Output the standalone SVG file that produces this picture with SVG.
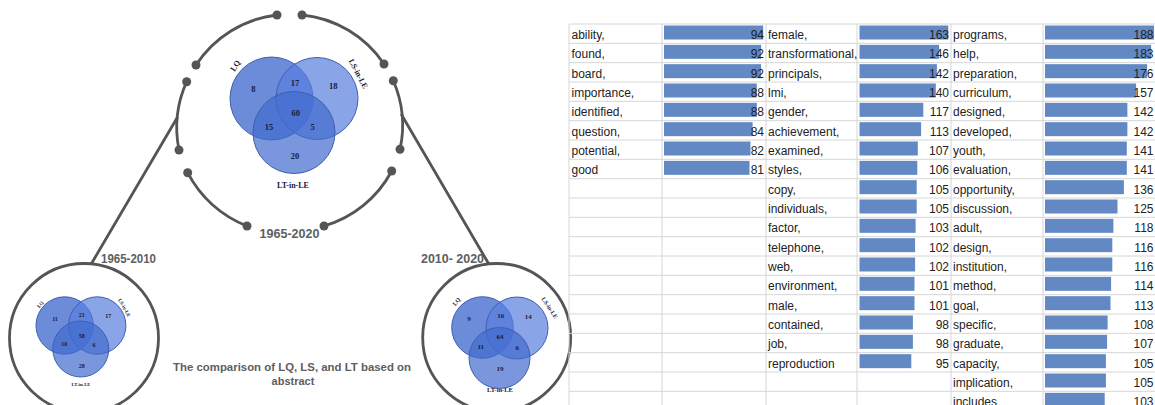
<svg xmlns="http://www.w3.org/2000/svg" width="1155" height="405" viewBox="0 0 1155 405">
<style>
.ring{fill:none;stroke:#555;stroke-width:2.8;stroke-linecap:round}
.dot{fill:#555}
.big{fill:none;stroke:#555;stroke-width:2.8}
.lbl{font-family:"Liberation Sans",Arial,sans-serif;font-weight:bold;fill:#5e5e5e}
.vq{fill:#2e5bc9;fill-opacity:0.7;stroke:#3f5fae;stroke-width:1}
.vs{fill:#587ede;fill-opacity:0.7;stroke:#3f5fae;stroke-width:1}
.vt{fill:#416bce;fill-opacity:0.7;stroke:#3f5fae;stroke-width:1}
.vn{font-family:"Liberation Serif","Times New Roman",serif;font-weight:bold;fill:#15203d;text-anchor:middle}
.grid{stroke:#d6d6d6;stroke-width:1}
.w{font-family:"Liberation Sans",Arial,sans-serif;font-size:12px;fill:#222}
.n{font-family:"Liberation Sans",Arial,sans-serif;font-size:12px;fill:#222;text-anchor:end}
.bar{fill:#6289c4}
</style>
<rect width="1155" height="405" fill="#fff"/>

<g id="connectors">
  <path class="ring" d="M277,15 A112,112 0 0 0 196,65"/>
  <path class="ring" d="M302,15 A112,112 0 0 1 384,64"/>
  <path class="ring" d="M186.7,81.7 A112,112 0 0 0 179,150"/>
  <path class="ring" d="M393.3,80.7 A112,112 0 0 1 400,149.3"/>
  <path class="ring" d="M187.7,172.7 A112,112 0 0 0 247,226"/>
  <path class="ring" d="M391.7,171 A112,112 0 0 1 324,226"/>
  <circle class="dot" cx="277" cy="15" r="4.5"/>
  <circle class="dot" cx="302" cy="15" r="4.5"/>
  <circle class="dot" cx="196" cy="65" r="4.5"/>
  <circle class="dot" cx="384" cy="64" r="4.5"/>
  <circle class="dot" cx="186.7" cy="81.7" r="4.5"/>
  <circle class="dot" cx="393.3" cy="80.7" r="4.5"/>
  <circle class="dot" cx="179" cy="150" r="4.5"/>
  <circle class="dot" cx="400" cy="149.3" r="4.5"/>
  <circle class="dot" cx="187.7" cy="172.7" r="4.5"/>
  <circle class="dot" cx="391.7" cy="171" r="4.5"/>
  <circle class="dot" cx="247" cy="226" r="4.5"/>
  <circle class="dot" cx="324" cy="226" r="4.5"/>
  <path class="ring" d="M177,118 L91.5,263.5"/>
  <path class="ring" d="M401.7,115 L488.5,263.5"/>
  <text class="lbl" x="289.5" y="237.5" font-size="13" text-anchor="middle" textLength="60" lengthAdjust="spacingAndGlyphs">1965-2020</text>
  <text class="lbl" x="101" y="262.5" font-size="12" textLength="55" lengthAdjust="spacingAndGlyphs">1965-2010</text>
  <text class="lbl" x="421" y="262.5" font-size="12" textLength="63" lengthAdjust="spacingAndGlyphs">2010- 2020</text>
  <text class="lbl" x="292" y="371" font-size="11" text-anchor="middle" textLength="238" lengthAdjust="spacingAndGlyphs">The comparison of LQ, LS, and LT based on</text>
  <text class="lbl" x="293" y="384.5" font-size="11" text-anchor="middle">abstract</text>
</g>

<g id="venn-1965-2020">
  <circle class="vq" cx="271.5" cy="98.5" r="41.5"/>
  <circle class="vs" cx="317" cy="98.5" r="41"/>
  <circle class="vt" cx="294" cy="132.5" r="41"/>
  <text class="vn" font-size="8" transform="translate(237.5,67) rotate(-58)">LQ</text>
  <text class="vn" font-size="8" transform="translate(356,75) rotate(62)">LS-in-LE</text>
  <text class="vn" font-size="8" x="293" y="188">LT-in-LE</text>
  <text class="vn" font-size="8.5" x="253.3" y="92.3">8</text>
  <text class="vn" font-size="8.5" x="295" y="85.7">17</text>
  <text class="vn" font-size="8.5" x="333.3" y="89">18</text>
  <text class="vn" font-size="8.5" x="295.7" y="116.3">60</text>
  <text class="vn" font-size="8.5" x="269" y="130.3">15</text>
  <text class="vn" font-size="8.5" x="312.7" y="130.3">5</text>
  <text class="vn" font-size="8.5" x="295" y="159">20</text>
</g>

<g id="venn-1965-2010">
  <circle class="big" cx="84" cy="338" r="74.5"/>
  <circle class="vq" cx="64.7" cy="325.5" r="28.7"/>
  <circle class="vs" cx="97.2" cy="325.5" r="28.7"/>
  <circle class="vt" cx="80.8" cy="349" r="28"/>
  <text class="vn" font-size="5" transform="translate(41.5,305.5) rotate(-50)">LQ</text>
  <text class="vn" font-size="5" transform="translate(123,308.5) rotate(61)">LS-in-LE</text>
  <text class="vn" font-size="4.8" x="81" y="386">LT-in-LE</text>
  <text class="vn" font-size="6" x="55" y="320.7">11</text>
  <text class="vn" font-size="6" x="81.7" y="317">21</text>
  <text class="vn" font-size="6" x="108.3" y="318">17</text>
  <text class="vn" font-size="6" x="81.7" y="338">58</text>
  <text class="vn" font-size="6" x="64.3" y="346.3">10</text>
  <text class="vn" font-size="6" x="94" y="347">6</text>
  <text class="vn" font-size="6" x="81.7" y="368">28</text>
</g>

<g id="venn-2010-2020">
  <circle class="big" cx="496.7" cy="337.5" r="74"/>
  <circle class="vq" cx="482.5" cy="327.5" r="30.8"/>
  <circle class="vs" cx="517" cy="328" r="31"/>
  <circle class="vt" cx="499.5" cy="358" r="30.5"/>
  <text class="vn" font-size="6" transform="translate(458,303) rotate(-50)">LQ</text>
  <text class="vn" font-size="6" transform="translate(548,309) rotate(57)">LS-in-LE</text>
  <text class="vn" font-size="6.5" x="500" y="392">LT-in-LE</text>
  <text class="vn" font-size="7" x="469" y="320.8">9</text>
  <text class="vn" font-size="7" x="500.7" y="317.5">16</text>
  <text class="vn" font-size="7" x="528.3" y="319.2">14</text>
  <text class="vn" font-size="7" x="500" y="339.2">64</text>
  <text class="vn" font-size="7" x="480.7" y="349.2">11</text>
  <text class="vn" font-size="7" x="517.3" y="349.8">6</text>
  <text class="vn" font-size="7" x="500" y="370.8">19</text>
</g>

<g id="word-table">
  <g id="grid">
    <line class="grid" x1="569" y1="24" x2="1155" y2="24"/>
    <line class="grid" x1="569" y1="43.33" x2="1155" y2="43.33"/>
    <line class="grid" x1="569" y1="62.67" x2="1155" y2="62.67"/>
    <line class="grid" x1="569" y1="82" x2="1155" y2="82"/>
    <line class="grid" x1="569" y1="101.33" x2="1155" y2="101.33"/>
    <line class="grid" x1="569" y1="120.67" x2="1155" y2="120.67"/>
    <line class="grid" x1="569" y1="140" x2="1155" y2="140"/>
    <line class="grid" x1="569" y1="159.33" x2="1155" y2="159.33"/>
    <line class="grid" x1="569" y1="178.67" x2="1155" y2="178.67"/>
    <line class="grid" x1="569" y1="198" x2="1155" y2="198"/>
    <line class="grid" x1="569" y1="217.33" x2="1155" y2="217.33"/>
    <line class="grid" x1="569" y1="236.67" x2="1155" y2="236.67"/>
    <line class="grid" x1="569" y1="256" x2="1155" y2="256"/>
    <line class="grid" x1="569" y1="275.33" x2="1155" y2="275.33"/>
    <line class="grid" x1="569" y1="294.67" x2="1155" y2="294.67"/>
    <line class="grid" x1="569" y1="314" x2="1155" y2="314"/>
    <line class="grid" x1="569" y1="333.33" x2="1155" y2="333.33"/>
    <line class="grid" x1="569" y1="352.67" x2="1155" y2="352.67"/>
    <line class="grid" x1="569" y1="372" x2="1155" y2="372"/>
    <line class="grid" x1="569" y1="391.33" x2="1155" y2="391.33"/>
    <line class="grid" x1="569" y1="24" x2="569" y2="405"/>
    <line class="grid" x1="662" y1="24" x2="662" y2="405"/>
    <line class="grid" x1="766" y1="24" x2="766" y2="405"/>
    <line class="grid" x1="857" y1="24" x2="857" y2="405"/>
    <line class="grid" x1="951" y1="24" x2="951" y2="405"/>
    <line class="grid" x1="1043" y1="24" x2="1043" y2="405"/>
  </g>
  <g id="col-1">
    <rect class="bar" x="664" y="25.5" width="99.2" height="14"/>
    <rect class="bar" x="664" y="44.83" width="97.1" height="14"/>
    <rect class="bar" x="664" y="64.17" width="97.1" height="14"/>
    <rect class="bar" x="664" y="83.5" width="92.8" height="14"/>
    <rect class="bar" x="664" y="102.83" width="92.8" height="14"/>
    <rect class="bar" x="664" y="122.17" width="88.6" height="14"/>
    <rect class="bar" x="664" y="141.5" width="86.5" height="14"/>
    <rect class="bar" x="664" y="160.83" width="85.5" height="14"/>
    <text class="w" x="571.5" y="39">ability,</text>
    <text class="w" x="571.5" y="58.33">found,</text>
    <text class="w" x="571.5" y="77.67">board,</text>
    <text class="w" x="571.5" y="97">importance,</text>
    <text class="w" x="571.5" y="116.33">identified,</text>
    <text class="w" x="571.5" y="135.67">question,</text>
    <text class="w" x="571.5" y="155">potential,</text>
    <text class="w" x="571.5" y="174.33">good</text>
    <text class="n" x="764" y="39">94</text>
    <text class="n" x="764" y="58.33">92</text>
    <text class="n" x="764" y="77.67">92</text>
    <text class="n" x="764" y="97">88</text>
    <text class="n" x="764" y="116.33">88</text>
    <text class="n" x="764" y="135.67">84</text>
    <text class="n" x="764" y="155">82</text>
    <text class="n" x="764" y="174.33">81</text>
  </g>
  <g id="col-2">
    <rect class="bar" x="859.5" y="25.5" width="88.8" height="14"/>
    <rect class="bar" x="859.5" y="44.83" width="79.6" height="14"/>
    <rect class="bar" x="859.5" y="64.17" width="77.4" height="14"/>
    <rect class="bar" x="859.5" y="83.5" width="76.3" height="14"/>
    <rect class="bar" x="859.5" y="102.83" width="63.8" height="14"/>
    <rect class="bar" x="859.5" y="122.17" width="61.6" height="14"/>
    <rect class="bar" x="859.5" y="141.5" width="58.3" height="14"/>
    <rect class="bar" x="859.5" y="160.83" width="57.8" height="14"/>
    <rect class="bar" x="859.5" y="180.17" width="57.2" height="14"/>
    <rect class="bar" x="859.5" y="199.5" width="57.2" height="14"/>
    <rect class="bar" x="859.5" y="218.83" width="56.1" height="14"/>
    <rect class="bar" x="859.5" y="238.17" width="55.6" height="14"/>
    <rect class="bar" x="859.5" y="257.5" width="55.6" height="14"/>
    <rect class="bar" x="859.5" y="276.83" width="55" height="14"/>
    <rect class="bar" x="859.5" y="296.17" width="55" height="14"/>
    <rect class="bar" x="859.5" y="315.5" width="53.4" height="14"/>
    <rect class="bar" x="859.5" y="334.83" width="53.4" height="14"/>
    <rect class="bar" x="859.5" y="354.17" width="51.8" height="14"/>
    <text class="w" x="768" y="39">female,</text>
    <text class="w" x="768" y="58.33">transformational,</text>
    <text class="w" x="768" y="77.67">principals,</text>
    <text class="w" x="768" y="97">lmi,</text>
    <text class="w" x="768" y="116.33">gender,</text>
    <text class="w" x="768" y="135.67">achievement,</text>
    <text class="w" x="768" y="155">examined,</text>
    <text class="w" x="768" y="174.33">styles,</text>
    <text class="w" x="768" y="193.67">copy,</text>
    <text class="w" x="768" y="213">individuals,</text>
    <text class="w" x="768" y="232.33">factor,</text>
    <text class="w" x="768" y="251.67">telephone,</text>
    <text class="w" x="768" y="271">web,</text>
    <text class="w" x="768" y="290.33">environment,</text>
    <text class="w" x="768" y="309.67">male,</text>
    <text class="w" x="768" y="329">contained,</text>
    <text class="w" x="768" y="348.33">job,</text>
    <text class="w" x="768" y="367.67">reproduction</text>
    <text class="n" x="949" y="39">163</text>
    <text class="n" x="949" y="58.33">146</text>
    <text class="n" x="949" y="77.67">142</text>
    <text class="n" x="949" y="97">140</text>
    <text class="n" x="949" y="116.33">117</text>
    <text class="n" x="949" y="135.67">113</text>
    <text class="n" x="949" y="155">107</text>
    <text class="n" x="949" y="174.33">106</text>
    <text class="n" x="949" y="193.67">105</text>
    <text class="n" x="949" y="213">105</text>
    <text class="n" x="949" y="232.33">103</text>
    <text class="n" x="949" y="251.67">102</text>
    <text class="n" x="949" y="271">102</text>
    <text class="n" x="949" y="290.33">101</text>
    <text class="n" x="949" y="309.67">101</text>
    <text class="n" x="949" y="329">98</text>
    <text class="n" x="949" y="348.33">98</text>
    <text class="n" x="949" y="367.67">95</text>
  </g>
  <g id="col-3">
    <rect class="bar" x="1045" y="25.5" width="109" height="14"/>
    <rect class="bar" x="1045" y="44.83" width="106.1" height="14"/>
    <rect class="bar" x="1045" y="64.17" width="102.1" height="14"/>
    <rect class="bar" x="1045" y="83.5" width="91.1" height="14"/>
    <rect class="bar" x="1045" y="102.83" width="82.4" height="14"/>
    <rect class="bar" x="1045" y="122.17" width="82.4" height="14"/>
    <rect class="bar" x="1045" y="141.5" width="81.8" height="14"/>
    <rect class="bar" x="1045" y="160.83" width="81.8" height="14"/>
    <rect class="bar" x="1045" y="180.17" width="78.9" height="14"/>
    <rect class="bar" x="1045" y="199.5" width="72.5" height="14"/>
    <rect class="bar" x="1045" y="218.83" width="68.4" height="14"/>
    <rect class="bar" x="1045" y="238.17" width="67.3" height="14"/>
    <rect class="bar" x="1045" y="257.5" width="67.3" height="14"/>
    <rect class="bar" x="1045" y="276.83" width="66.1" height="14"/>
    <rect class="bar" x="1045" y="296.17" width="65.5" height="14"/>
    <rect class="bar" x="1045" y="315.5" width="62.6" height="14"/>
    <rect class="bar" x="1045" y="334.83" width="62.1" height="14"/>
    <rect class="bar" x="1045" y="354.17" width="60.9" height="14"/>
    <rect class="bar" x="1045" y="373.5" width="60.9" height="14"/>
    <rect class="bar" x="1045" y="392.83" width="59.7" height="14"/>
    <text class="w" x="953" y="39">programs,</text>
    <text class="w" x="953" y="58.33">help,</text>
    <text class="w" x="953" y="77.67">preparation,</text>
    <text class="w" x="953" y="97">curriculum,</text>
    <text class="w" x="953" y="116.33">designed,</text>
    <text class="w" x="953" y="135.67">developed,</text>
    <text class="w" x="953" y="155">youth,</text>
    <text class="w" x="953" y="174.33">evaluation,</text>
    <text class="w" x="953" y="193.67">opportunity,</text>
    <text class="w" x="953" y="213">discussion,</text>
    <text class="w" x="953" y="232.33">adult,</text>
    <text class="w" x="953" y="251.67">design,</text>
    <text class="w" x="953" y="271">institution,</text>
    <text class="w" x="953" y="290.33">method,</text>
    <text class="w" x="953" y="309.67">goal,</text>
    <text class="w" x="953" y="329">specific,</text>
    <text class="w" x="953" y="348.33">graduate,</text>
    <text class="w" x="953" y="367.67">capacity,</text>
    <text class="w" x="953" y="387">implication,</text>
    <text class="w" x="953" y="406.33">includes</text>
    <text class="n" x="1153.5" y="39">188</text>
    <text class="n" x="1153.5" y="58.33">183</text>
    <text class="n" x="1153.5" y="77.67">176</text>
    <text class="n" x="1153.5" y="97">157</text>
    <text class="n" x="1153.5" y="116.33">142</text>
    <text class="n" x="1153.5" y="135.67">142</text>
    <text class="n" x="1153.5" y="155">141</text>
    <text class="n" x="1153.5" y="174.33">141</text>
    <text class="n" x="1153.5" y="193.67">136</text>
    <text class="n" x="1153.5" y="213">125</text>
    <text class="n" x="1153.5" y="232.33">118</text>
    <text class="n" x="1153.5" y="251.67">116</text>
    <text class="n" x="1153.5" y="271">116</text>
    <text class="n" x="1153.5" y="290.33">114</text>
    <text class="n" x="1153.5" y="309.67">113</text>
    <text class="n" x="1153.5" y="329">108</text>
    <text class="n" x="1153.5" y="348.33">107</text>
    <text class="n" x="1153.5" y="367.67">105</text>
    <text class="n" x="1153.5" y="387">105</text>
    <text class="n" x="1153.5" y="406.33">103</text>
  </g>
</g>
</svg>
